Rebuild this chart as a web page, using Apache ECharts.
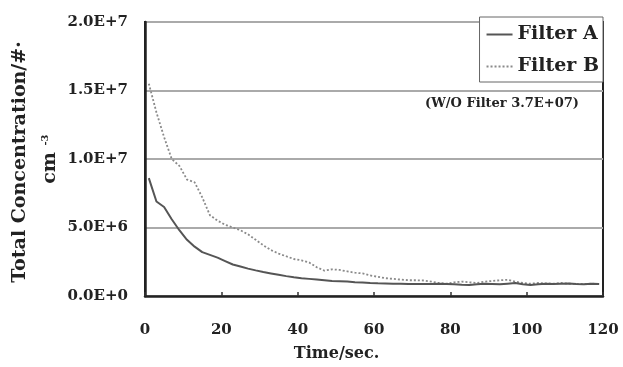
<!DOCTYPE html>
<html>
<head>
<meta charset="utf-8">
<script src="https://cdn.jsdelivr.net/npm/echarts@6/dist/echarts.min.js"></script>
<style>html,body{margin:0;padding:0;background:#fff}#c{width:623px;height:367px}</style>
</head>
<body>
<div id="c"></div>
<script>
var times = [1,3,5,7,9,11,13,15,17,19,21,23,25,27,29,31,33,35,37,39,41,43,45,47,49,51,53,55,57,59,61,63,65,67,69,71,73,75,77,79,81,83,85,87,89,91,93,95,97,99,101,103,105,107,109,111,113,115,117,119];
var filterA = [8.6,6.9,6.5,5.6,4.8,4.1,3.6,3.2,3.0,2.8,2.55,2.3,2.15,2.0,1.87,1.75,1.65,1.55,1.45,1.37,1.3,1.25,1.2,1.15,1.1,1.08,1.05,1.0,0.98,0.95,0.93,0.92,0.9,0.9,0.88,0.87,0.87,0.88,0.9,0.88,0.85,0.82,0.8,0.85,0.9,0.88,0.85,0.9,0.95,0.85,0.8,0.85,0.9,0.88,0.9,0.92,0.88,0.85,0.9,0.88];
var filterB = [15.5,13.4,11.6,10.0,9.5,8.5,8.3,7.2,5.9,5.5,5.2,5.0,4.8,4.5,4.1,3.7,3.35,3.1,2.9,2.7,2.6,2.45,2.1,1.85,1.95,1.9,1.8,1.7,1.65,1.5,1.4,1.3,1.25,1.2,1.15,1.15,1.13,1.05,0.95,0.9,1.0,1.05,1.0,0.95,1.05,1.1,1.15,1.18,1.05,0.95,0.9,0.95,0.92,0.9,0.95,0.9,0.88,0.87,0.9,0.87];
var seriesNames = ['Filter A','Filter B'];
var yTickLabels = {0:'0.0E+0',5000000:'5.0E+6',10000000:'1.0E+7',15000000:'1.5E+7',20000000:'2.0E+7'};
var xTitle = 'Time/sec.';
var yTitle1 = 'Total Concentration/#\u00b7';
var yTitle2 = 'cm';
var yTitleSup = '-3';
var note = '(W/O Filter 3.7E+07)';

function pairs(vals){ return times.map(function(t,i){ return [t, vals[i]*1e6]; }); }
var FONT = 'DejaVu Serif';
var chart = echarts.init(document.getElementById('c'), null, {renderer:'canvas'});
chart.setOption({
  animation:false,
  backgroundColor:'#fff',
  grid:{left:145,right:20,top:22,bottom:68,show:true,borderColor:'#222',borderWidth:2,backgroundColor:'transparent'},
  xAxis:{type:'value',min:0,max:120,interval:20,
    name:xTitle,nameLocation:'middle',nameGap:50,
    nameTextStyle:{fontFamily:FONT,fontWeight:'bold',fontSize:16,color:'#222',padding:[0,75,0,0]},
    axisLine:{show:true,lineStyle:{color:'#222',width:2.5}},
    axisTick:{show:true,inside:true,length:4,lineStyle:{color:'#333',width:1.5}},
    axisLabel:{fontFamily:FONT,fontWeight:'bold',fontSize:15,color:'#222',margin:27},
    splitLine:{show:false}},
  yAxis:{type:'value',min:0,max:20000000,interval:5000000,
    axisLine:{show:true,lineStyle:{color:'#222',width:2.5}},
    axisTick:{show:false},
    axisLabel:{fontFamily:FONT,fontWeight:'bold',fontSize:15,color:'#222',margin:17,
      formatter:function(v){return yTickLabels[v];}},
    splitLine:{show:true,lineStyle:{color:'#aaa',width:2}}},
  legend:{orient:'vertical',right:20,top:17,data:seriesNames,
    backgroundColor:'#fff',borderColor:'#666',borderWidth:1,
    padding:[8,4,6,6],itemGap:13,itemWidth:26,itemHeight:12,
    itemStyle:{opacity:0},
    textStyle:{fontFamily:FONT,fontWeight:'bold',fontSize:19,color:'#222'}},
  series:[
    {name:seriesNames[0],type:'line',data:pairs(filterA),symbol:'none',showSymbol:false,
     lineStyle:{color:'#555',width:2},itemStyle:{color:'#555'},z:3},
    {name:seriesNames[1],type:'line',data:pairs(filterB),symbol:'none',showSymbol:false,
     lineStyle:{color:'#8a8a8a',width:1.8,type:[2,2]},itemStyle:{color:'#8a8a8a'},z:2}
  ],
  graphic:[
    {type:'text',x:20,y:162,rotation:Math.PI/2,
      style:{text:yTitle1,font:'bold 19px "DejaVu Serif"',fill:'#222',align:'center',verticalAlign:'middle'}},
    {type:'text',x:50,y:168,rotation:Math.PI/2,
      style:{text:yTitle2,font:'bold 19px "DejaVu Serif"',fill:'#222',align:'center',verticalAlign:'middle'}},
    {type:'text',x:45,y:140,rotation:Math.PI/2,
      style:{text:yTitleSup,font:'bold 10px "DejaVu Serif"',fill:'#222',align:'center',verticalAlign:'middle'}},
    {type:'text',x:502,y:104,z:10,
      style:{text:note,font:'bold 13px "DejaVu Serif"',fill:'#222',align:'center',verticalAlign:'middle'}}
  ]
});
</script>
</body>
</html>
